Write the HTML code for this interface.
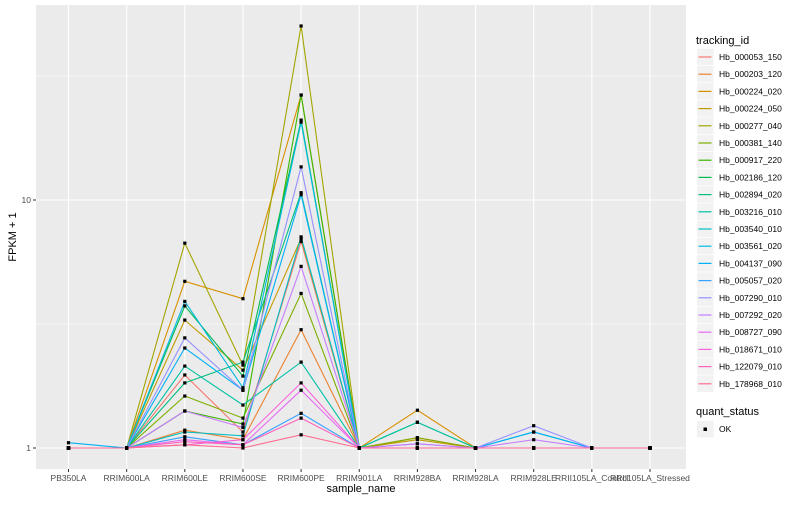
<!DOCTYPE html>
<html><head><meta charset="utf-8"><style>
body{margin:0;background:#fff;font-family:"Liberation Sans",sans-serif;}
svg text{font-family:"Liberation Sans",sans-serif;}
</style></head><body>
<svg id="chart" width="800" height="500"></svg>
<script>
const categories=["PB350LA","RRIM600LA","RRIM600LE","RRIM600SE","RRIM600PE","RRIM901LA","RRIM928BA","RRIM928LA","RRIM928LE","RRII105LA_Control","RRII105LA_Stressed"];
const seriesNames=["Hb_000053_150","Hb_000203_120","Hb_000224_020","Hb_000224_050","Hb_000277_040","Hb_000381_140","Hb_000917_220","Hb_002186_120","Hb_002894_020","Hb_003216_010","Hb_003540_010","Hb_003561_020","Hb_004137_090","Hb_005057_020","Hb_007290_010","Hb_007292_020","Hb_008727_090","Hb_018671_010","Hb_122079_010","Hb_178968_010"];
const colors=["#F8766D","#EA8331","#D89000","#C09B00","#A3A500","#7CAE00","#39B600","#00BB4E","#00BF7D","#00C1A3","#00BFC4","#00BAE0","#00B0F6","#35A2FF","#9590FF","#C77CFF","#E76BF3","#FA62DB","#FF62BC","#FF6C91"];
const v01=[1,1,1.97,1.16,6.8,1,1,1,1,1,1];
const v02=[1,1,1.18,1.08,3.0,1,1.1,1,1,1,1];
const v03=[1,1,4.7,4.0,26.5,1,1.42,1,1,1,1];
const v04=[1,1,3.28,2.06,7.0,1,1.08,1,1,1,1];
const v05=[1,1,6.7,2.16,50.3,1,1,1,1,1,1];
const v06=[1,1,1.62,1.32,4.2,1,1.1,1,1,1,1];
const v07=[1,1,1.41,1.25,26.5,1,1,1,1,1,1];
const v08=[1,1,3.74,1.95,21.0,1,1.27,1,1,1,1];
const v09=[1,1,1.83,2.22,10.7,1,1,1,1,1,1];
const v10=[1,1,2.14,1.49,2.22,1,1.27,1,1,1,1];
const v11=[1,1,1.16,1.12,7.1,1,1,1,1,1,1];
const v12=[1,1,3.9,1.75,20.6,1,1,1,1.16,1,1];
const v13=[1.05,1,2.53,1.71,10.5,1,1,1,1.16,1,1];
const v14=[1,1,1.11,1.03,1.38,1,1,1,1,1,1];
const v15=[1,1,2.78,1.71,13.6,1,1.04,1,1.23,1,1];
const v16=[1,1,1.41,1.21,5.4,1,1.04,1,1.08,1,1];
const v17=[1,1,1.08,1.03,1.71,1,1,1,1,1,1];
const v18=[1,1,1.03,1.08,1.83,1,1,1,1,1,1];
const v19=[1,1,1.06,1.03,1.32,1,1,1,1,1,1];
const v20=[1,1,1.03,1.0,1.13,1,1,1,1,1,1];
const series=[v01,v02,v03,v04,v05,v06,v07,v08,v09,v10,v11,v12,v13,v14,v15,v16,v17,v18,v19,v20];
const yTicks=[1,10];
const yTickLabels=["1","10"];

const NS="http://www.w3.org/2000/svg";
const svg=document.getElementById('chart');
function mk(tag,attrs,parent){const e=document.createElementNS(NS,tag);for(const k in attrs)e.setAttribute(k,attrs[k]);(parent||svg).appendChild(e);return e;}
const P={l:36,r:686,t:5,b:469};
const xScale=i=>68.5+i*58.15;
const yScale=v=>448-Math.log10(v)*248;

const panel=mk('rect',{x:P.l,y:P.t,width:P.r-P.l,height:P.b-P.t,fill:'#EBEBEB'});


[0.5,1.5].forEach(e=>{const y=yScale(Math.pow(10,e));mk('line',{x1:P.l,x2:P.r,y1:y,y2:y,stroke:'#fff','stroke-width':0.6});});
yTicks.forEach((t,i)=>{const y=yScale(t);
 const g=mk('line',{x1:P.l,x2:P.r,y1:y,y2:y,stroke:'#fff','stroke-width':1.1});
 
 
 mk('line',{x1:P.l-3,x2:P.l,y1:y,y2:y,stroke:'#333','stroke-width':1});
 const tx=mk('text',{x:P.l-5,y:y+3,'text-anchor':'end','font-size':8.5,fill:'#4D4D4D'});tx.textContent=yTickLabels[i];
 
 
});
categories.forEach((c,i)=>{const x=xScale(i);
 mk('line',{x1:x,x2:x,y1:P.t,y2:P.b,stroke:'#fff','stroke-width':1.1});
 mk('line',{x1:x,x2:x,y1:P.b,y2:P.b+3,stroke:'#333','stroke-width':1});
 const tx=mk('text',{x:x,y:P.b+12,'text-anchor':'middle','font-size':8.5,fill:'#4D4D4D'});tx.textContent=c;
 
 
});
series.forEach((s,k)=>{
 const pts=s.map((v,i)=>xScale(i).toFixed(1)+','+yScale(v).toFixed(1)).join(' ');
 const pl=mk('polyline',{points:pts,fill:'none',stroke:colors[k],'stroke-width':1.1});
 
 
});
series.forEach((s,k)=>{s.forEach((v,i)=>{
 const r=mk('rect',{x:xScale(i)-1.6,y:yScale(v)-1.6,width:3.2,height:3.2,fill:'#000'});
 
 
});});
const xt=mk('text',{x:361,y:492,'text-anchor':'middle','font-size':11,fill:'#000'});xt.textContent='sample_name';


const yt=mk('text',{x:16,y:237,'text-anchor':'middle','font-size':11,fill:'#000',transform:'rotate(-90 16 237)'});yt.textContent='FPKM + 1';



const lt=mk('text',{x:696,y:44,'font-size':11,fill:'#000'});lt.textContent='tracking_id';


seriesNames.forEach((n,k)=>{const y=57+k*17.2;
 const g=mk('g',{});
 
 
 mk('rect',{x:697,y:y-8.3,width:16.5,height:16.5,fill:'#F2F2F2'},g);
 mk('line',{x1:698.5,x2:711.5,y1:y,y2:y,stroke:colors[k],'stroke-width':1.2},g);
 const t=mk('text',{x:719,y:y+3,'font-size':8.5,fill:'#000'},g);t.textContent=n;
});
const qt=mk('text',{x:696,y:415,'font-size':11,fill:'#000'});qt.textContent='quant_status';


const qg=mk('g',{});


mk('rect',{x:697,y:421,width:16.5,height:16.5,fill:'#F2F2F2'},qg);
mk('rect',{x:703.5,y:427.5,width:3.5,height:3.5,fill:'#000'},qg);
const ok=mk('text',{x:719,y:432,'font-size':8.5,fill:'#000'},qg);ok.textContent='OK';
</script>
</body></html>
